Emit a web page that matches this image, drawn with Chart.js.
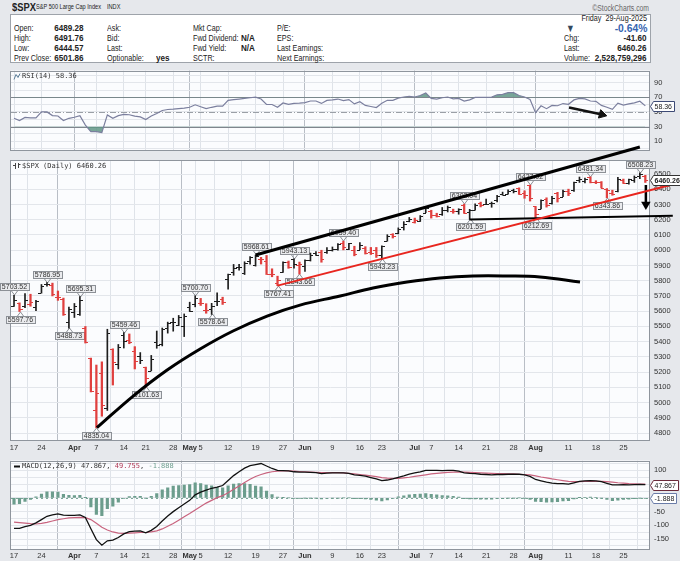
<!DOCTYPE html>
<html>
<head>
<meta charset="utf-8">
<script src="https://cdn.jsdelivr.net/npm/chart.js@4.4.1/dist/chart.umd.min.js"></script>
<style>
  html, body { margin: 0; padding: 0; }
  body { width: 680px; height: 561px; position: relative; overflow: hidden; background: #e6e8ec;
         font-family: "Liberation Sans", Arial, sans-serif; }
  .t { position: absolute; white-space: nowrap; font-size: 9px; line-height: 10px; color: #222;
       transform: scaleX(0.8); transform-origin: left center; }
  .b { font-weight: bold; transform: scaleX(0.9); }
  .r { transform-origin: right center; text-align: right; }
  #info { position: absolute; left: 10px; top: 14px; width: 641px; height: 49px; background: #fff;
          border: 1px solid #9ea3aa; box-sizing: border-box; }
  canvas { position: absolute; left: 0; }
</style>
</head>
<body>

<div class="t b" style="left:12px;top:1px;font-size:11px;line-height:12px;transform:scaleX(0.85)">$SPX</div>
<div class="t" style="left:36px;top:2px;font-size:7px">S&amp;P 500 Large Cap Index</div>
<div class="t" style="left:107px;top:2px;font-size:7px">INDX</div>
<div class="t r" style="right:31px;top:3px;font-size:8.5px;color:#666">©StockCharts.com</div>
<div id="info"></div>

<div class="t" style="left:14px;top:23px">Open:</div>
<div class="t" style="left:14px;top:33px">High:</div>
<div class="t" style="left:14px;top:43px">Low:</div>
<div class="t" style="left:14px;top:53px">Prev Close:</div>
<div class="t r b" style="right:596px;top:23px">6489.28</div>
<div class="t r b" style="right:596px;top:33px">6491.76</div>
<div class="t r b" style="right:596px;top:43px">6444.57</div>
<div class="t r b" style="right:596px;top:53px">6501.86</div>

<div class="t" style="left:107px;top:23px">Ask:</div>
<div class="t" style="left:107px;top:33px">Bid:</div>
<div class="t" style="left:107px;top:43px">Last:</div>
<div class="t" style="left:107px;top:53px">Optionable:</div>
<div class="t b" style="left:156px;top:53px">yes</div>

<div class="t" style="left:193px;top:23px">Mkt Cap:</div>
<div class="t" style="left:193px;top:33px">Fwd Dividend:</div>
<div class="t" style="left:193px;top:43px">Fwd Yield:</div>
<div class="t" style="left:193px;top:53px">SCTR:</div>
<div class="t b" style="left:241px;top:33px">N/A</div>
<div class="t b" style="left:241px;top:43px">N/A</div>

<div class="t" style="left:277px;top:23px">P/E:</div>
<div class="t" style="left:277px;top:33px">EPS:</div>
<div class="t" style="left:277px;top:43px">Last Earnings:</div>
<div class="t" style="left:277px;top:53px">Next Earnings:</div>

<div class="t r" style="right:33px;top:13px">Friday&nbsp;&nbsp;29-Aug-2025</div>
<div class="t" style="left:566px;top:22px;font-size:11px;line-height:12px;color:#34495e">▼</div>
<div class="t r b" style="right:33px;top:22px;font-size:11.5px;line-height:12px;color:#3564b0">-0.64%</div>
<div class="t" style="left:564px;top:33px">Chg:</div>
<div class="t r b" style="right:33px;top:33px">-41.60</div>
<div class="t" style="left:564px;top:43px">Last:</div>
<div class="t r b" style="right:33px;top:43px">6460.26</div>
<div class="t" style="left:564px;top:53px">Volume:</div>
<div class="t r b" style="right:33px;top:53px">2,528,759,296</div>

<canvas id="rsiChart" width="680" height="97" style="top:62px"></canvas>
<canvas id="priceChart" width="680" height="313" style="top:140px"></canvas>
<canvas id="macdChart" width="680" height="109" style="top:452px"></canvas>

<script>
// Daily bars, 17-Mar-2025 .. 29-Aug-2025 (index 0 .. 115)
const priorClose = 5638.94;
const opens = [
  5635.60, 5654.53, 5632.37, 5646.92, 5629.77, 5718.08, 5775.89, 5771.66, 5695.64, 5679.69,
  5527.91, 5597.53, 5580.76, 5492.74, 5292.14, 4953.79, 5193.57, 4965.28, 5353.15, 5255.56,
  5441.96, 5411.99, 5335.75, 5305.45, 5232.94, 5207.67, 5395.92, 5381.38, 5489.69, 5529.22,
  5508.87, 5499.44, 5625.14, 5645.23, 5655.32, 5605.88, 5614.14, 5663.94, 5679.33, 5807.81,
  5854.12, 5887.36, 5848.42, 5929.09, 5902.88, 5944.66, 5928.25, 5841.26, 5781.89, 5854.07,
  5925.57, 5939.92, 5903.67, 5896.68, 5938.56, 5978.94, 5985.67, 5987.06, 6004.60, 6009.91,
  6049.38, 6009.90, 6000.56, 6004.00, 6012.15, 5987.93, 6004.32, 5969.67, 6061.21, 6104.59,
  6112.20, 6150.70, 6193.36, 6187.25, 6193.23, 6246.46, 6259.75, 6232.44, 6237.43, 6266.09,
  6255.68, 6255.15, 6295.29, 6248.87, 6263.40, 6311.11, 6304.74, 6306.60, 6326.90, 6368.60,
  6370.01, 6397.69, 6409.26, 6377.76, 6427.02, 6287.28, 6271.71, 6336.20, 6309.33, 6374.83,
  6351.68, 6389.67, 6395.17, 6460.30, 6453.22, 6478.13, 6445.26, 6445.56, 6404.71, 6378.34,
  6390.96, 6457.67, 6440.40, 6457.87, 6483.97, 6489.28
];
const highs = [
  5703.52, 5654.53, 5715.33, 5711.15, 5670.84, 5775.14, 5786.95, 5784.10, 5732.28, 5685.89,
  5627.56, 5650.57, 5695.31, 5499.53, 5292.14, 5246.57, 5267.47, 5481.34, 5353.15, 5381.46,
  5459.46, 5450.41, 5367.24, 5328.31, 5232.94, 5309.60, 5469.69, 5489.40, 5528.11, 5553.66,
  5571.95, 5581.84, 5658.91, 5700.70, 5683.81, 5649.04, 5651.28, 5720.10, 5691.68, 5844.19,
  5906.63, 5906.86, 5924.21, 5958.62, 5968.61, 5953.06, 5965.81, 5878.08, 5829.51, 5924.33,
  5929.00, 5943.13, 5922.14, 5937.40, 5981.35, 5990.48, 5999.70, 6016.87, 6021.31, 6043.01,
  6059.40, 6045.43, 6026.16, 6050.83, 6023.25, 6018.25, 6018.20, 6028.81, 6101.76, 6108.51,
  6146.52, 6187.68, 6215.08, 6210.78, 6227.60, 6284.65, 6262.33, 6242.70, 6280.46, 6290.22,
  6269.44, 6272.42, 6302.04, 6268.41, 6304.58, 6315.61, 6336.08, 6316.12, 6360.64, 6381.31,
  6395.82, 6401.07, 6409.26, 6389.72, 6427.02, 6287.28, 6330.07, 6343.92, 6352.83, 6379.87,
  6395.16, 6400.56, 6446.55, 6480.28, 6473.81, 6481.34, 6456.02, 6450.55, 6404.71, 6393.87,
  6478.71, 6466.89, 6466.96, 6487.30, 6508.23, 6491.76
];
const lows = [
  5631.12, 5597.76, 5622.20, 5632.33, 5603.10, 5718.08, 5764.01, 5699.95, 5670.94, 5572.42,
  5488.73, 5558.52, 5571.48, 5390.83, 5069.90, 4835.04, 4910.42, 4948.43, 5115.27, 5220.77,
  5358.02, 5386.44, 5220.79, 5255.58, 5101.63, 5207.67, 5356.57, 5371.96, 5455.86, 5468.64,
  5505.70, 5433.24, 5597.35, 5628.44, 5637.54, 5586.30, 5578.64, 5635.61, 5644.07, 5744.58,
  5835.46, 5868.81, 5840.38, 5907.66, 5895.69, 5909.26, 5840.52, 5825.82, 5767.41, 5854.07,
  5881.26, 5881.38, 5843.66, 5861.43, 5929.00, 5966.11, 5921.20, 5978.63, 5994.18, 6000.26,
  6002.32, 6003.88, 5963.21, 6004.00, 5974.80, 5971.89, 5952.56, 5943.23, 6059.24, 6080.03,
  6107.04, 6132.35, 6186.32, 6177.97, 6188.29, 6246.46, 6210.78, 6217.85, 6228.36, 6251.06,
  6242.59, 6236.22, 6241.79, 6201.59, 6263.40, 6284.18, 6303.79, 6281.71, 6317.49, 6360.57,
  6368.53, 6375.87, 6365.94, 6340.91, 6322.60, 6212.69, 6271.71, 6282.71, 6301.96, 6316.13,
  6351.68, 6358.30, 6385.76, 6444.72, 6441.70, 6441.74, 6436.93, 6408.58, 6343.86, 6360.59,
  6382.79, 6438.06, 6433.95, 6445.20, 6469.33, 6444.57
];
const closes = [
  5675.12, 5614.66, 5675.29, 5662.89, 5667.56, 5767.57, 5776.65, 5712.20, 5693.31, 5580.94,
  5611.85, 5633.07, 5670.97, 5396.52, 5074.08, 5062.25, 4982.77, 5456.90, 5268.05, 5363.36,
  5405.97, 5396.63, 5275.70, 5282.70, 5158.20, 5287.76, 5375.86, 5484.77, 5525.21, 5528.75,
  5560.83, 5569.06, 5604.14, 5686.67, 5650.38, 5606.91, 5631.28, 5663.94, 5659.91, 5844.19,
  5886.55, 5892.58, 5916.93, 5958.38, 5963.60, 5940.46, 5844.61, 5842.01, 5802.82, 5921.54,
  5888.55, 5912.17, 5911.69, 5935.94, 5970.37, 5970.81, 5939.30, 6000.36, 6005.88, 6038.81,
  6022.24, 6045.26, 5976.97, 6033.11, 5982.72, 5980.87, 5967.84, 6025.17, 6092.18, 6092.16,
  6141.02, 6173.07, 6204.95, 6198.01, 6227.42, 6279.35, 6229.98, 6225.52, 6263.26, 6280.46,
  6259.75, 6268.56, 6243.76, 6263.70, 6297.36, 6296.79, 6305.60, 6309.62, 6358.91, 6363.35,
  6388.64, 6389.77, 6370.86, 6362.90, 6339.39, 6238.01, 6329.94, 6299.19, 6345.06, 6340.00,
  6389.45, 6373.45, 6445.76, 6466.58, 6468.54, 6449.80, 6449.15, 6411.37, 6395.78, 6370.17,
  6466.91, 6439.32, 6465.94, 6481.40, 6501.86, 6460.26
];

// RSI(14)
const rsi14 = [
  41.3, 38.3, 42.5, 42, 42, 50, 50, 45, 44.5, 38.3,
  41.3, 42.8, 45, 32, 23, 23, 21.8, 46, 41.3, 45,
  46.6, 46.2, 44.4, 43.2, 39.5, 44.4, 48, 52, 53.4, 53.8,
  54.5, 55.3, 56.4, 59.8, 57.2, 54.5, 56.4, 57.9, 57.9, 65.8,
  67, 67.7, 68.5, 69.5, 70.3, 67.7, 60.2, 60.2, 56.4, 62.4,
  60.5, 61.7, 62, 62.8, 65, 65, 61.7, 65.8, 66.6, 67.7,
  65.5, 67, 61, 64, 59, 57.5, 56, 62, 66, 66,
  69, 70.5, 71.5, 70.5, 72.5, 76, 68.5, 67.5, 69.5, 70.5,
  68, 68.5, 65, 66.5, 70, 70, 70, 70.3, 73.5, 74,
  76.5, 76.5, 72.5, 70.5, 67, 49, 58.5, 54.5, 59, 58.5,
  61.5, 60.5, 66.5, 68.5, 68, 65, 64.5, 59, 56.5, 53.5,
  62, 59.5, 61, 62.5, 64.7, 58.36
];

// MACD(12,26,9)
const macdLine = [
  -111, -111, -105, -100, -91, -79, -67, -62, -58, -63,
  -64, -64, -62, -71, -112, -152, -172, -156, -154, -144,
  -131, -123, -121, -120, -127, -118, -104, -84, -66, -50,
  -36, -22, -9, 11, 21, 28, 35, 39, 45, 63,
  81, 95, 108, 117, 121, 125, 116, 107, 100, 99,
  98, 95, 94, 94, 93, 92, 88, 90, 91, 91,
  91, 89, 84, 82, 79, 74, 69, 63, 65, 69,
  75, 80, 86, 91, 95, 100, 100, 100, 99, 100,
  100, 97, 91, 89, 88, 86, 85, 84, 85, 85,
  86, 86, 86, 84, 78, 67, 62, 57, 54, 52,
  52, 50, 55, 60, 62, 63, 62, 59, 53, 47,
  47, 48, 47, 48, 49, 47.867
];
const macdSignal = [
  -88, -90, -92, -94, -95, -93, -89, -84, -79, -76,
  -73, -72, -71, -72, -79, -92, -107, -117, -124, -128,
  -129, -128, -127, -126, -126, -124, -120, -113, -103, -93,
  -81, -69, -57, -44, -31, -19, -9, 1, 8, 19,
  31, 43, 56, 68, 78, 85, 91, 95, 97, 98,
  98, 97, 96, 95, 94, 93, 92, 92, 92, 92,
  91, 89, 87, 85, 83, 80, 77, 74, 72, 71,
  71, 73, 75, 78, 81, 84, 87, 89, 91, 93,
  94, 94, 94, 93, 92, 91, 90, 89, 88, 88,
  87, 87, 86, 85, 84, 80, 76, 73, 69, 66,
  63, 60, 59, 59, 60, 60, 60, 60, 59, 57,
  55, 54, 52, 51, 50, 49.755
];
const macdHist = [
  -23, -21, -13, -6, 4, 14, 22, 22, 21, 13,
  9, 8, 9, 1, -33, -60, -65, -39, -30, -16,
  -2, 5, 6, 6, -1, 6, 16, 29, 37, 43,
  45, 47, 48, 55, 52, 47, 44, 38, 37, 44,
  50, 52, 52, 49, 43, 40, 25, 12, 3, 1,
  0, -2, -2, -1, -1, -1, -4, -2, -1, -1,
  0, 0, -3, -3, -4, -6, -8, -11, -7, -2,
  4, 7, 11, 13, 14, 16, 13, 11, 8, 7,
  6, 3, -3, -4, -4, -5, -5, -5, -3, -3,
  -1, -1, 0, -1, -6, -13, -14, -16, -15, -14,
  -11, -10, -4, 1, 2, 3, 2, -1, -6, -10,
  -8, -6, -5, -3, -1, -1.888
];

// date axis
const tickIdx = [0, 5, 11, 15, 20, 24, 29, 32, 34, 39, 44, 49, 53, 58, 63, 67, 73, 76, 81, 86, 91, 95, 101, 106, 111];
const tickText = ['17', '24', 'Apr', '7', '14', '21', '28', 'May', '5', '12', '19', '27', 'Jun', '9', '16', '23',
                  'Jul', '7', '14', '21', '28', 'Aug', '11', '18', '25'];
const monthIdx = [11, 32, 53, 73, 95];

// panel levels
const rsiGridLevels = [0, 10, 20, 30, 40, 50, 60, 70, 80, 90, 100];
const rsiLabelLevels = [10, 30, 50, 70, 90];
const macdGridLevels = [-175, -150, -125, -100, -75, -50, -25, 0, 25, 50, 75, 100, 125];
const macdLabelLevels = [-150, -100, -50, 0, 50, 100];

// labelled swing highs / lows
const swingIdx = [0, 1, 6, 10, 12, 15, 20, 24, 33, 36, 44, 48, 51, 52, 60, 67, 82, 83, 94, 95, 105, 108, 114];
const swingVal = [5703.52, 5597.76, 5786.95, 5488.73, 5695.31, 4835.04, 5459.46, 5101.63, 5700.70, 5578.64,
                  5968.61, 5767.41, 5943.13, 5843.66, 6059.40, 5943.23, 6302.04, 6201.59, 6427.02, 6212.69,
                  6481.34, 6343.86, 6508.23];

// hand drawn annotations (bar index, price)
const channelIdx = [44, 114];
const channelPrice = [5968.61, 6677];
const trendIdx = [48, 121];
const trendPrice = [5767.41, 6441];
const supportIdx = [83, 120];
const supportPrice = [6201.59, 6226];
const arcIdx = [15.1, 21.7, 27.9, 33.9, 39.9, 46.1, 52.1, 59.4, 65.4, 71.6, 77.6, 83.6, 89.8, 95.8, 103.1];
const arcPrice = [4835, 5043, 5214, 5352, 5470, 5568, 5640, 5700, 5752, 5791, 5818, 5831, 5831, 5824, 5791];
const priceArrowIdx = [115.1, 115.1];
const priceArrowVal = [6428, 6312];
const rsiArrowIdx = [101.1, 107.1];
const rsiArrowVal = [56, 46.5];

const FONT = '"Liberation Sans", Arial, sans-serif';
const MONO = '"DejaVu Sans Mono", monospace';
const RED = '#e0403f';

function pts(xs, ys) {
    return xs.map((x, i) => ({ x: x, y: ys[i] }));
}

function isUp(i) {
    const prev = i === 0 ? priorClose : closes[i - 1];
    return closes[i] >= prev;
}

// panel background + frame
const panelFrame = {
    id: 'panelFrame',
    beforeDraw(chart) {
        const { ctx, chartArea: a } = chart;
        ctx.save();
        ctx.fillStyle = '#fbfcfe';
        ctx.fillRect(a.left, a.top, a.right - a.left, a.bottom - a.top);
        ctx.restore();
    },
    beforeDatasetsDraw(chart) {
        const { ctx, chartArea: a } = chart;
        ctx.save();
        ctx.strokeStyle = '#8f959d';
        ctx.lineWidth = 1;
        ctx.strokeRect(Math.round(a.left) - 0.5, Math.round(a.top) + 0.5,
                       Math.round(a.right - a.left), Math.round(a.bottom - a.top) - 1);
        ctx.restore();
    }
};

// value box on the right axis
function axisBox(chart, value, text, border, bold) {
    const { ctx, chartArea: a } = chart;
    const y = Math.round(chart.scales.y.getPixelForValue(value)) + 0.5;
    ctx.save();
    ctx.font = (bold ? 'bold ' : '') + '7px ' + FONT;
    const w = Math.ceil(ctx.measureText(text).width) + 6;
    const x = Math.round(a.right) + 0.5;
    ctx.beginPath();
    ctx.moveTo(x, y);
    ctx.lineTo(x + 3, y - 5);
    ctx.lineTo(x + w, y - 5);
    ctx.lineTo(x + w, y + 5);
    ctx.lineTo(x + 3, y + 5);
    ctx.closePath();
    ctx.fillStyle = '#fff';
    ctx.fill();
    ctx.strokeStyle = border;
    ctx.lineWidth = 1;
    ctx.stroke();
    ctx.fillStyle = '#222';
    ctx.textBaseline = 'middle';
    ctx.fillText(text, x + 4, y + 0.5);
    ctx.restore();
}

function xScaleOptions(showLabels) {
    return {
        type: 'linear',
        min: -0.55,
        max: 115.85,
        offset: false,
        afterBuildTicks: s => { s.ticks = tickIdx.map(v => ({ value: v })); },
        afterFit: s => { s.height = showLabels ? 12 : 0; },
        border: { display: false },
        grid: {
            drawTicks: false,
            color: c => (c.tick && monthIdx.includes(c.tick.value)) ? '#b9bec6' : '#dfe3e9'
        },
        ticks: {
            display: showLabels,
            autoSkip: false,
            maxRotation: 0,
            padding: 2,
            color: '#333',
            font: c => ({ family: FONT, size: 7.5,
                          weight: (c.tick && monthIdx.includes(c.tick.value)) ? 'bold' : 'normal' }),
            callback: v => {
                const k = tickIdx.indexOf(v);
                return k < 0 ? '' : tickText[k];
            }
        }
    };
}

function baseOptions(yOpts, showLabels, topPad) {
    return {
        responsive: false,
        animation: false,
        events: [],
        layout: { padding: { left: 11, right: 0, top: topPad, bottom: 0 } },
        plugins: { legend: { display: false }, tooltip: { enabled: false } },
        scales: {
            x: xScaleOptions(showLabels),
            y: Object.assign({
                position: 'right',
                afterFit: s => { s.width = 30; },
                border: { display: false }
            }, yOpts)
        }
    };
}

function yTicks(labelFn) {
    return {
        autoSkip: false,
        padding: 4,
        color: '#333',
        font: { family: FONT, size: 7.5 },
        callback: labelFn
    };
}

// ---------- RSI ----------
const rsiExtras = {
    id: 'rsiExtras',
    beforeDatasetsDraw(chart) {
        const { ctx, chartArea: a } = chart;
        const ys = chart.scales.y;
        ctx.save();
        ctx.lineWidth = 1;
        [70, 30].forEach(v => {
            const y = Math.round(ys.getPixelForValue(v)) + 0.5;
            ctx.strokeStyle = '#7f858d';
            ctx.beginPath(); ctx.moveTo(a.left, y); ctx.lineTo(a.right, y); ctx.stroke();
        });
        const y50 = Math.round(ys.getPixelForValue(50)) + 0.5;
        ctx.strokeStyle = '#9a9fa6';
        ctx.setLineDash([6, 2, 1, 2]);
        ctx.beginPath(); ctx.moveTo(a.left, y50); ctx.lineTo(a.right, y50); ctx.stroke();
        ctx.restore();
    },
    afterDraw(chart) {
        const { ctx, chartArea: a } = chart;
        const last = rsi14[rsi14.length - 1];
        ctx.save();
        ctx.strokeStyle = '#5d7f9a';
        ctx.lineWidth = 1;
        ctx.beginPath();
        ctx.moveTo(a.left + 3, a.top + 9); ctx.lineTo(a.left + 5, a.top + 4);
        ctx.lineTo(a.left + 7, a.top + 7); ctx.lineTo(a.left + 9, a.top + 3);
        ctx.stroke();
        ctx.font = '7px ' + MONO;
        ctx.fillStyle = '#333';
        ctx.textBaseline = 'middle';
        ctx.fillText('RSI(14) ' + last.toFixed(2), a.left + 11, a.top + 6);
        ctx.restore();
        axisBox(chart, last, last.toFixed(2), '#3d4a75', false);
    }
};

const idxAll = rsi14.map((v, i) => i);

new Chart(document.getElementById('rsiChart'), {
    type: 'line',
    data: {
        datasets: [
            {
                data: pts(idxAll, rsi14),
                borderColor: '#7b7f9e',
                borderWidth: 1.2,
                pointRadius: 0,
                fill: { target: { value: 70 }, above: 'rgba(96,150,134,0.85)', below: 'rgba(0,0,0,0)' },
                order: 2
            },
            {
                data: pts(idxAll, rsi14),
                borderWidth: 0,
                pointRadius: 0,
                fill: { target: { value: 30 }, above: 'rgba(0,0,0,0)', below: 'rgba(96,150,134,0.85)' },
                order: 3
            },
            {
                data: pts(rsiArrowIdx, rsiArrowVal),
                borderColor: '#111',
                borderWidth: 2.5,
                pointRadius: 0,
                clip: false,
                order: 0
            },
            {
                data: pts(rsiArrowIdx.slice(1), rsiArrowVal.slice(1)),
                showLine: false,
                pointStyle: 'triangle',
                pointRadius: 5,
                rotation: 104.8,
                pointBackgroundColor: '#111',
                pointBorderColor: '#111',
                clip: false,
                order: 0
            }
        ]
    },
    options: baseOptions({
        min: -2.8,
        max: 106.8,
        afterBuildTicks: s => { s.ticks = rsiGridLevels.map(v => ({ value: v })); },
        grid: { drawTicks: false, color: '#e3e6eb' },
        ticks: yTicks(v => rsiLabelLevels.includes(v) ? String(v) : '')
    }, false, 0),
    plugins: [panelFrame, rsiExtras]
});

// ---------- price ----------
const ohlcTicks = {
    id: 'ohlcTicks',
    afterDatasetsDraw(chart) {
        const { ctx } = chart;
        const xs = chart.scales.x, ys = chart.scales.y;
        ctx.save();
        closes.forEach((c, i) => {
            const x = Math.round(xs.getPixelForValue(i));
            ctx.fillStyle = isUp(i) ? '#1e1e1e' : RED;
            ctx.fillRect(x - 3, Math.round(ys.getPixelForValue(opens[i])), 3, 1);
            ctx.fillRect(x, Math.round(ys.getPixelForValue(c)), 3, 1);
        });
        ctx.restore();
    }
};

const swingLabels = {
    id: 'swingLabels',
    beforeDatasetsDraw(chart) {
        const { ctx } = chart;
        const xs = chart.scales.x, ys = chart.scales.y;
        ctx.save();
        ctx.font = '7px ' + FONT;
        ctx.textAlign = 'center';
        ctx.textBaseline = 'middle';
        ctx.lineWidth = 1;
        swingIdx.forEach((i, k) => {
            const v = swingVal[k];
            const above = Math.abs(highs[i] - v) < 0.005;
            const x = Math.round(xs.getPixelForValue(i)) + 0.5;
            const y = Math.round(ys.getPixelForValue(v));
            const txt = v.toFixed(2);
            const w = Math.ceil(ctx.measureText(txt).width) + 4;
            const h = 8;
            const edge = above ? y - 4 : y + 4;
            const top = above ? edge - h : edge;
            ctx.fillStyle = '#eaebee';
            ctx.strokeStyle = '#8c9096';
            ctx.fillRect(Math.round(x - w / 2), top, w, h);
            ctx.strokeRect(Math.round(x - w / 2) + 0.5, top + 0.5, w - 1, h - 1);
            ctx.beginPath();
            ctx.moveTo(x - 3, edge); ctx.lineTo(x, y); ctx.lineTo(x + 3, edge);
            ctx.stroke();
            ctx.fillStyle = '#333';
            ctx.fillText(txt, x, top + h / 2 + 0.5);
        });
        ctx.restore();
    },
    afterDraw(chart) {
        const { ctx, chartArea: a } = chart;
        const last = closes[closes.length - 1];
        ctx.save();
        ctx.strokeStyle = '#444';
        ctx.lineWidth = 1;
        ctx.beginPath();
        ctx.moveTo(a.left + 4.5, a.top + 3); ctx.lineTo(a.left + 4.5, a.top + 9);
        ctx.moveTo(a.left + 2, a.top + 5.5); ctx.lineTo(a.left + 4.5, a.top + 5.5);
        ctx.moveTo(a.left + 7.5, a.top + 3); ctx.lineTo(a.left + 7.5, a.top + 8);
        ctx.moveTo(a.left + 7.5, a.top + 4.5); ctx.lineTo(a.left + 9.5, a.top + 4.5);
        ctx.stroke();
        ctx.font = '7px ' + MONO;
        ctx.fillStyle = '#333';
        ctx.textBaseline = 'middle';
        ctx.fillText('$SPX (Daily) ' + last.toFixed(2), a.left + 11, a.top + 6);
        ctx.restore();
        axisBox(chart, last, last.toFixed(2), '#333', true);
    }
};

const upBars = closes.map((c, i) => ({ x: i, y: isUp(i) ? [lows[i], highs[i]] : null }));
const downBars = closes.map((c, i) => ({ x: i, y: isUp(i) ? null : [lows[i], highs[i]] }));

function annotLine(xs, ys, color, width, extra) {
    return Object.assign({
        type: 'line',
        data: pts(xs, ys),
        borderColor: color,
        borderWidth: width,
        pointRadius: 0,
        clip: false,
        order: 0
    }, extra || {});
}

new Chart(document.getElementById('priceChart'), {
    type: 'bar',
    data: {
        datasets: [
            { data: upBars, backgroundColor: '#1e1e1e', barThickness: 1, grouped: false, order: 10 },
            { data: downBars, backgroundColor: RED, barThickness: 1.6, grouped: false, order: 10 },
            annotLine(arcIdx, arcPrice, '#000', 3, { tension: 0.4 }),
            annotLine(channelIdx, channelPrice, '#000', 3),
            annotLine(trendIdx, trendPrice, '#e8261f', 2),
            annotLine(supportIdx, supportPrice, '#000', 2),
            annotLine(priceArrowIdx, priceArrowVal, '#000', 2.5),
            annotLine(priceArrowIdx.slice(1), [6300], '#000', 0, {
                showLine: false, pointStyle: 'triangle', pointRadius: 5.5, rotation: 180,
                pointBackgroundColor: '#000', pointBorderColor: '#000'
            })
        ]
    },
    options: baseOptions({
        min: 4748,
        max: 6592,
        grid: { drawTicks: false, color: '#e3e6eb' },
        ticks: Object.assign(yTicks(v => String(v)), { stepSize: 100, includeBounds: false })
    }, true, 20),
    plugins: [panelFrame, swingLabels, ohlcTicks]
});

// ---------- MACD ----------
const macdExtras = {
    id: 'macdExtras',
    beforeDatasetsDraw(chart) {
        const { ctx, chartArea: a } = chart;
        const y0 = Math.round(chart.scales.y.getPixelForValue(0)) + 0.5;
        ctx.save();
        ctx.strokeStyle = '#7aa596';
        ctx.lineWidth = 1;
        ctx.setLineDash([2, 3]);
        ctx.beginPath(); ctx.moveTo(a.left, y0); ctx.lineTo(a.right, y0); ctx.stroke();
        ctx.restore();
    },
    afterDraw(chart) {
        const { ctx, chartArea: a } = chart;
        const n = macdLine.length - 1;
        ctx.save();
        ctx.fillStyle = '#111';
        ctx.fillRect(a.left + 3, a.top + 5, 6, 2);
        ctx.font = '7px ' + MONO;
        ctx.textBaseline = 'middle';
        let x = a.left + 11;
        const parts = [
            ['MACD(12,26,9) ' + macdLine[n].toFixed(3) + ', ', '#333'],
            [macdSignal[n].toFixed(3), '#b23a56'],
            [', ', '#333'],
            [macdHist[n].toFixed(3), '#6d9e8e']
        ];
        parts.forEach(p => {
            ctx.fillStyle = p[1];
            ctx.fillText(p[0], x, a.top + 6);
            x += ctx.measureText(p[0]).width;
        });
        ctx.restore();
        axisBox(chart, macdLine[n], macdLine[n].toFixed(3), '#6b2a3a', false);
        axisBox(chart, macdHist[n], macdHist[n].toFixed(3), '#6a7ca8', false);
    }
};

new Chart(document.getElementById('macdChart'), {
    type: 'bar',
    data: {
        datasets: [
            { data: pts(idxAll, macdHist), backgroundColor: '#6c9d8d', barThickness: 2.5, order: 10 },
            { type: 'line', data: pts(idxAll, macdSignal), borderColor: '#c8637e', borderWidth: 1.2, pointRadius: 0, order: 2 },
            { type: 'line', data: pts(idxAll, macdLine), borderColor: '#111', borderWidth: 1.3, pointRadius: 0, order: 1 }
        ]
    },
    options: baseOptions({
        min: -186,
        max: 136,
        afterBuildTicks: s => { s.ticks = macdGridLevels.map(v => ({ value: v })); },
        grid: { drawTicks: false, color: '#e3e6eb' },
        ticks: yTicks(v => macdLabelLevels.includes(v) ? String(v) : '')
    }, true, 0),
    plugins: [panelFrame, macdExtras]
});
</script>
</body>
</html>
